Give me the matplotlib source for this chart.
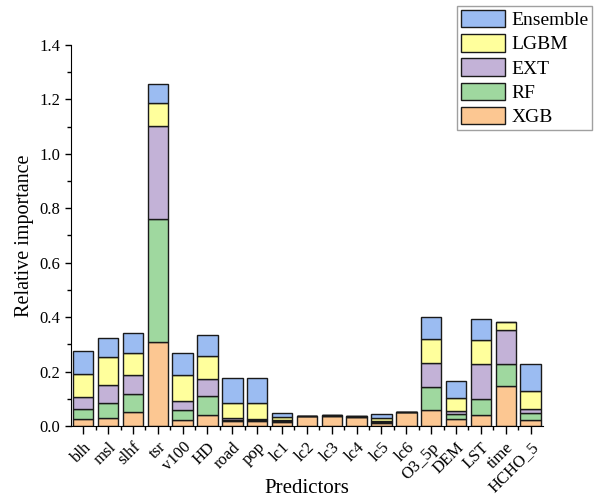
import matplotlib
matplotlib.use("Agg")
import matplotlib.pyplot as plt
import numpy as np
from matplotlib.ticker import MultipleLocator

plt.rcParams['font.family'] = ['Liberation Serif', 'DejaVu Serif']

predictors = ['blh', 'msl', 'slhf', 'tsr', 'v100', 'HD', 'road', 'pop', 'lc1', 'lc2',
              'lc3', 'lc4', 'lc5', 'lc6', 'O3_5p', 'DEM', 'LST', 'time', 'HCHO_5']

# stacked contributions, bottom to top
xgb = [0.025, 0.029, 0.050, 0.308, 0.021, 0.042, 0.017, 0.017, 0.015, 0.035,
       0.037, 0.032, 0.012, 0.050, 0.060, 0.027, 0.039, 0.146, 0.021]
rf = [0.036, 0.054, 0.066, 0.451, 0.037, 0.068, 0.006, 0.006, 0.003, 0.001,
      0.001, 0.001, 0.003, 0.000, 0.085, 0.016, 0.061, 0.080, 0.026]
ext = [0.044, 0.067, 0.073, 0.344, 0.033, 0.062, 0.005, 0.004, 0.003, 0.001,
       0.001, 0.002, 0.003, 0.000, 0.085, 0.011, 0.127, 0.126, 0.014]
lgbm = [0.087, 0.102, 0.078, 0.083, 0.097, 0.084, 0.055, 0.056, 0.011, 0.001,
        0.001, 0.001, 0.010, 0.000, 0.090, 0.048, 0.090, 0.030, 0.066]
ensemble = [0.082, 0.073, 0.076, 0.071, 0.080, 0.077, 0.095, 0.093, 0.015, 0.000,
            0.000, 0.000, 0.017, 0.000, 0.081, 0.065, 0.076, 0.000, 0.100]

series = [('XGB', xgb, '#FCC792'),
          ('RF', rf, '#9FD89F'),
          ('EXT', ext, '#C3B2D7'),
          ('LGBM', lgbm, '#FFFF9C'),
          ('Ensemble', ensemble, '#9BBCF2')]

fig = plt.figure(figsize=(6, 5.01), dpi=100)
ax = fig.add_axes([0.118, 0.1497, 0.787, 0.7605])

x = np.arange(len(predictors))
bottom = np.zeros(len(predictors))
handles = {}
for name, vals, color in series:
    vals = np.array(vals)
    bars = ax.bar(x, vals, width=0.82, bottom=bottom, color=color,
                  edgecolor='#1a1a1a', linewidth=1.0)
    handles[name] = bars
    bottom += vals

ax.set_xlim(-0.5, 18.5)
ax.set_ylim(0, 1.4)
ax.yaxis.set_major_locator(MultipleLocator(0.2))
ax.yaxis.set_minor_locator(MultipleLocator(0.1))
ax.set_yticklabels([f'{v:.1f}' for v in ax.get_yticks()])
ax.set_xticks(x)
ax.set_xticks(x[:-1] + 0.5, minor=True)
ax.set_xticklabels(predictors, rotation=45, ha='right', rotation_mode='anchor')

ax.spines['top'].set_visible(False)
ax.spines['right'].set_visible(False)
ax.tick_params(axis='both', which='major', direction='out', labelsize=12, width=1)
ax.tick_params(axis='x', which='major', length=6)
ax.tick_params(axis='y', which='major', length=4)
ax.tick_params(axis='both', which='minor', direction='out', length=3, width=1)

ax.set_xlabel('Predictors', fontsize=15, va='center')
ax.xaxis.set_label_coords(0.5, -0.163)
ax.set_ylabel('Relative importance', fontsize=14.5)

order = ['Ensemble', 'LGBM', 'EXT', 'RF', 'XGB']
leg = fig.legend([handles[n] for n in order], order, loc='upper right',
                 bbox_to_anchor=(0.987, 0.988), fontsize=14, frameon=True,
                 fancybox=False, edgecolor='#888888', handlelength=2.3,
                 handleheight=1.0, labelspacing=0.25, handletextpad=0.3,
                 borderpad=0.2, borderaxespad=0)
leg.get_frame().set_linewidth(1.0)

fig.savefig('out.png', dpi=100)
